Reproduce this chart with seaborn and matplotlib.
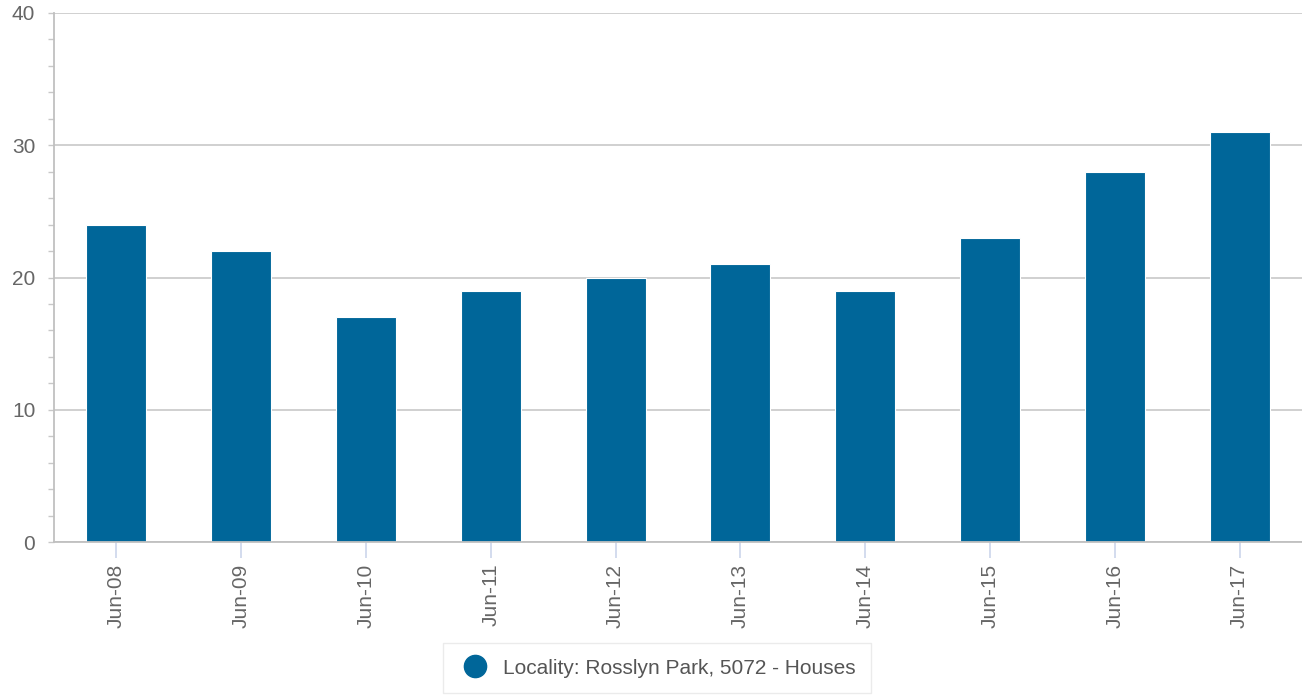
import matplotlib
matplotlib.use("Agg")
import matplotlib.pyplot as plt
import seaborn as sns
import pandas as pd
from matplotlib.ticker import MultipleLocator
from matplotlib.lines import Line2D

categories = ["Jun-08", "Jun-09", "Jun-10", "Jun-11", "Jun-12",
              "Jun-13", "Jun-14", "Jun-15", "Jun-16", "Jun-17"]
values = [24, 22, 17, 19, 20, 21, 19, 23, 28, 31]
series_name = "Locality: Rosslyn Park, 5072 - Houses"
bar_color = "#006699"

sns.set_theme(style="white")
plt.rcParams['font.family'] = ['Liberation Sans', 'DejaVu Sans']

df = pd.DataFrame({"period": categories, "value": values})

fig = plt.figure(figsize=(13.02, 6.96), dpi=100)
ax = fig.add_axes([54/1302, 1-542/696, 1-54/1302, (542-13)/696])

sns.barplot(data=df, x="period", y="value", color=bar_color, width=0.48,
            edgecolor="white", linewidth=0.8, saturation=1, ax=ax)

ax.set_xlim(-0.5, len(categories) - 0.5)
ax.set_ylim(0, 40)
ax.yaxis.set_major_locator(MultipleLocator(10))
ax.yaxis.set_minor_locator(MultipleLocator(2))
ax.grid(axis="y", which="major", color="#c8c8c8", linewidth=1.2)
ax.set_axisbelow(True)

for s in ["top", "right"]:
    ax.spines[s].set_visible(False)
for s in ["left", "bottom"]:
    ax.spines[s].set_color("#c0c0c0")
    ax.spines[s].set_linewidth(1.3)

ax.tick_params(axis="y", which="both", direction="out", length=4.5, width=1,
               color="#c8c8c8", labelcolor="#666666", labelsize=15, pad=9, left=True)
ax.tick_params(axis="x", direction="out", length=11.5, width=1.2,
               color="#ccd6eb", labelcolor="#666666", labelsize=15, pad=4, bottom=True,
               labelrotation=90)
ax.set_xlabel("")
ax.set_ylabel("")

handle = Line2D([], [], marker="o", linestyle="none", markersize=16,
                markerfacecolor=bar_color, markeredgecolor=bar_color)
leg = fig.legend([handle], [series_name], loc="upper center",
                 bbox_to_anchor=(657/1302, 1-643/696), frameon=True, fancybox=False,
                 fontsize=15, handletextpad=0.5, handlelength=1.6, borderpad=0.75,
                 borderaxespad=0, labelcolor="#555555")
leg.get_frame().set_edgecolor("#e6e6e6")
leg.get_frame().set_linewidth(1)

fig.savefig("out.png", dpi=100)
